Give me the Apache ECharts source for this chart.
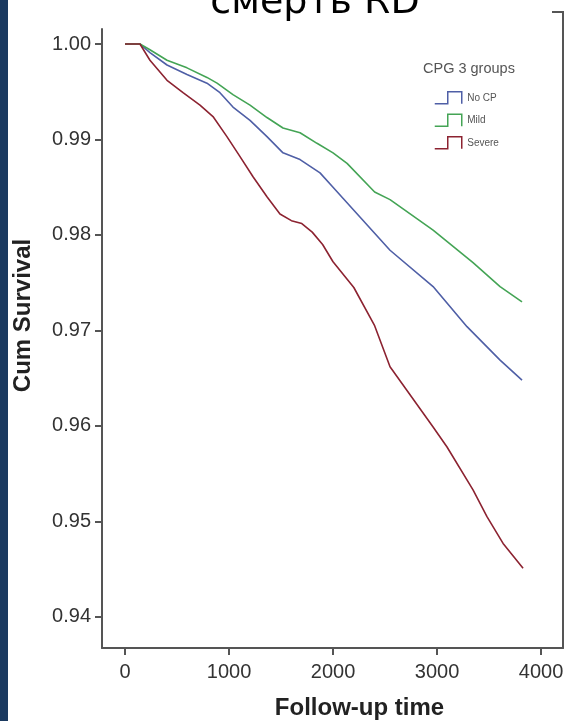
<!DOCTYPE html>
<html>
<head>
<meta charset="utf-8">
<script src="https://cdn.jsdelivr.net/npm/echarts@6/dist/echarts.min.js"></script>
<style>
html,body{margin:0;padding:0;background:#fff;}
#chart{width:575px;height:721px;}
</style>
</head>
<body>
<div id="chart"></div>
<script>
// ---- data ----
const seriesNames = ['No CP', 'Mild', 'Severe'];
const noCP = [[0,1],[144,1],[240,0.9991],[404,0.9978],[596,0.9968],[788,0.9959],[913,0.9949],[1038,0.9934],[1202,0.992],[1365,0.9903],[1519,0.9886],[1683,0.9879],[1875,0.9865],[2000,0.985],[2100,0.9838],[2548,0.9784],[2962,0.9746],[3288,0.9704],[3606,0.9669],[3817,0.9648]];
const mild = [[0,1],[144,1],[240,0.9994],[404,0.9983],[596,0.9975],[788,0.9965],[885,0.9959],[1038,0.9947],[1202,0.9936],[1365,0.9923],[1519,0.9912],[1683,0.9907],[1846,0.9896],[2000,0.9886],[2135,0.9875],[2400,0.9845],[2548,0.9837],[2962,0.9805],[3346,0.9771],[3606,0.9746],[3817,0.973]];
const severe = [[0,1],[144,1],[240,0.9983],[404,0.9962],[558,0.9949],[721,0.9936],[846,0.9924],[980,0.9903],[1106,0.9882],[1231,0.9861],[1365,0.984],[1490,0.9822],[1600,0.9815],[1700,0.9812],[1800,0.9803],[1900,0.979],[2000,0.9772],[2200,0.9745],[2400,0.9705],[2548,0.9662],[2962,0.9599],[3096,0.9578],[3346,0.9533],[3480,0.9505],[3635,0.9477],[3827,0.9451]];
const xTicks = [0, 1000, 2000, 3000, 4000];
const yTicks = [0.94, 0.95, 0.96, 0.97, 0.98, 0.99, 1.00];
const colors = ['#4f5fa6', '#44a455', '#8c2331'];

const axisColor = '#555';
const chart = echarts.init(document.getElementById('chart'), null, {renderer: 'canvas'});
chart.setOption({
  backgroundColor: '#ffffff',
  animation: false,
  title: [
    {text: 'смерть RD', left: 315, textAlign: 'center', top: -16, padding: 0,
     textStyle: {fontFamily: 'DejaVu Sans', fontSize: 38, fontWeight: 'normal', color: '#000'}},
    {text: 'CPG 3 groups', left: 423, top: 61, padding: 0,
     textStyle: {fontFamily: 'Liberation Sans', fontSize: 14.5, fontWeight: 'normal', color: '#555'}}
  ],
  legend: {
    data: seriesNames.map((n, i) => ({
      name: n,
      itemStyle: {color: 'rgba(0,0,0,0)', borderColor: colors[i], borderWidth: 1.5}
    })),
    orient: 'vertical',
    left: 434, top: 91,
    itemWidth: 28, itemHeight: 12, itemGap: 9,
    padding: 0,
    icon: 'path://M0,12L13,12L13,0L27,0L27,12',
    textStyle: {fontFamily: 'Liberation Sans', fontSize: 10, color: '#555'}
  },
  grid: {left: 102, right: 12, top: 29, bottom: 73, containLabel: false, outerBoundsMode: 'none'},
  xAxis: {
    type: 'value', min: -221, max: 4211,
    name: 'Follow-up time', nameLocation: 'middle', nameGap: 48,
    nameTextStyle: {fontFamily: 'Liberation Sans', fontSize: 24, fontWeight: 'bold', color: '#222', padding: [0,0,0,54]},
    axisLine: {show: true, onZero: false, lineStyle: {color: axisColor, width: 2}},
    axisTick: {show: true, length: 7, lineStyle: {color: axisColor, width: 2}, customValues: xTicks},
    axisLabel: {customValues: xTicks, margin: 14, fontFamily: 'Liberation Sans', fontSize: 20, color: '#333',
                formatter: v => String(v)},
    splitLine: {show: false}
  },
  yAxis: [{
    type: 'value', min: 0.93675, max: 1.00157,
    name: 'Cum Survival', nameLocation: 'middle', nameGap: 67, nameRotate: 90,
    nameTextStyle: {fontFamily: 'Liberation Sans', fontSize: 24, fontWeight: 'bold', color: '#222', padding: [0,0,0,46]},
    axisLine: {show: true, onZero: false, lineStyle: {color: axisColor, width: 2}},
    axisTick: {show: true, length: 7, lineStyle: {color: axisColor, width: 2}, customValues: yTicks},
    axisLabel: {customValues: yTicks, margin: 11, fontFamily: 'Liberation Sans', fontSize: 20, color: '#333',
                formatter: v => v.toFixed(2)},
    splitLine: {show: false}
  }, {
    type: 'value', position: 'right', min: 0.93675, max: 1.00157,
    axisLine: {show: true, onZero: false, lineStyle: {color: axisColor, width: 2}},
    axisTick: {show: false}, axisLabel: {show: false}, splitLine: {show: false}
  }],
  graphic: [
    {type: 'rect', shape: {x: 0, y: 0, width: 8, height: 721}, style: {fill: '#1b3a60'}, silent: true},
    {type: 'polyline', shape: {points: [[552,12],[563,12],[563,30]]}, style: {stroke: axisColor, lineWidth: 2, fill: null}, silent: true}
  ],
  series: [
    {name: seriesNames[0], type: 'line', data: noCP, showSymbol: false, color: colors[0], lineStyle: {width: 1.6}, yAxisIndex: 0},
    {name: seriesNames[1], type: 'line', data: mild, showSymbol: false, color: colors[1], lineStyle: {width: 1.6}, yAxisIndex: 0},
    {name: seriesNames[2], type: 'line', data: severe, showSymbol: false, color: colors[2], lineStyle: {width: 1.6}, yAxisIndex: 0}
  ]
});
</script>
</body>
</html>
